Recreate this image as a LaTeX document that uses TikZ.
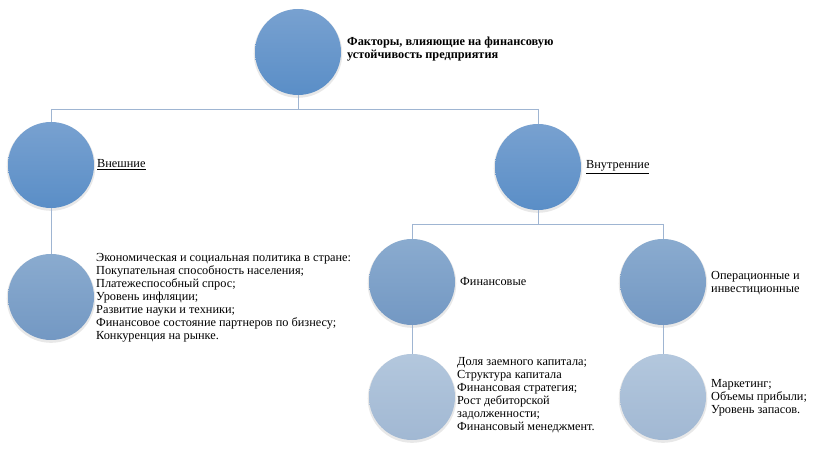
\documentclass[tikz,border=0pt]{standalone}
\usepackage{fontspec}
\setmainfont{Liberation Serif}
\usetikzlibrary{shadows}
\definecolor{lineclr}{HTML}{9FB5D2}
\definecolor{aTop}{HTML}{78A1D0}
\definecolor{aBot}{HTML}{5A8EC7}
\definecolor{bTop}{HTML}{8AABCF}
\definecolor{bBot}{HTML}{7398C3}
\definecolor{cTop}{HTML}{B3C7DD}
\definecolor{cBot}{HTML}{A1B8D3}
\tikzset{
  circ/.style={circle, minimum size=86pt, inner sep=0pt,
    drop shadow={opacity=0.18, shadow xshift=0pt, shadow yshift=-1.5pt, shadow scale=1.03}},
  lvla/.style={circ, top color=aTop, bottom color=aBot},
  lvlb/.style={circ, top color=bTop, bottom color=bBot},
  lvlc/.style={circ, top color=cTop, bottom color=cBot},
  lbl/.style={anchor=west, inner sep=0pt, align=left, font=\rmfamily\fontsize{12.3}{13}\selectfont},
  conn/.style={draw=lineclr, line width=0.9pt},
}
\begin{document}
\begin{tikzpicture}[x=1pt,y=-1pt]
\useasboundingbox (0,0) rectangle (819,454);
\coordinate (h1) at (298,109);
\coordinate (hl) at (51,109);
\coordinate (hr) at (538,109);
\coordinate (h2) at (538,224);
\coordinate (h2l) at (412,224);
\coordinate (h2r) at (663,224);
% circles
\node[lvla] (top) at (298,52) {};
\node[lvla] (ext) at (51,165) {};
\node[lvla] (int) at (538,167) {};
\node[lvlb] (extsub) at (51,297) {};
\node[lvlb] (fin) at (412,282) {};
\node[lvlb] (ops) at (663,282) {};
\node[lvlc] (finsub) at (412,397) {};
\node[lvlc] (opssub) at (663,397) {};
% connectors
\draw[conn] (top.south) -- (h1);
\draw[conn] (hl) -- (hr);
\draw[conn] (hl) -- (ext.north);
\draw[conn] (hr) -- (int.north);
\draw[conn] (ext.south) -- (extsub.north);
\draw[conn] (int.south) -- (h2);
\draw[conn] (h2l) -- (h2r);
\draw[conn] (h2l) -- (fin.north);
\draw[conn] (h2r) -- (ops.north);
\draw[conn] (fin.south) -- (finsub.north);
\draw[conn] (ops.south) -- (opssub.north);
% labels
\node[lbl, font=\rmfamily\bfseries\fontsize{12.3}{12.5}\selectfont] (ttop) at (347,49) {Факторы, влияющие на финансовую\\устойчивость предприятия};
\node[lbl] (text) at (97,165) {\underline{Внешние}};
\node[lbl] (tint) at (586,167) {\underline{Внутренние}};
\node[lbl] (textsub) at (96,298) {Экономическая и социальная политика в стране:\\Покупательная способность населения;\\Платежеспособный спрос;\\Уровень инфляции;\\Развитие науки и техники;\\Финансовое состояние партнеров по бизнесу;\\Конкуренция на рынке.};
\node[lbl] (tfin) at (460,282) {Финансовые};
\node[lbl] (tops) at (711,283) {Операционные и\\инвестиционные};
\node[lbl] (tfinsub) at (457,395) {Доля заемного капитала;\\Структура капитала\\Финансовая стратегия;\\Рост дебиторской\\задолженности;\\Финансовый менеджмент.};
\node[lbl] (topssub) at (711,398) {Маркетинг;\\Объемы прибыли;\\Уровень запасов.};
\end{tikzpicture}
\end{document}
